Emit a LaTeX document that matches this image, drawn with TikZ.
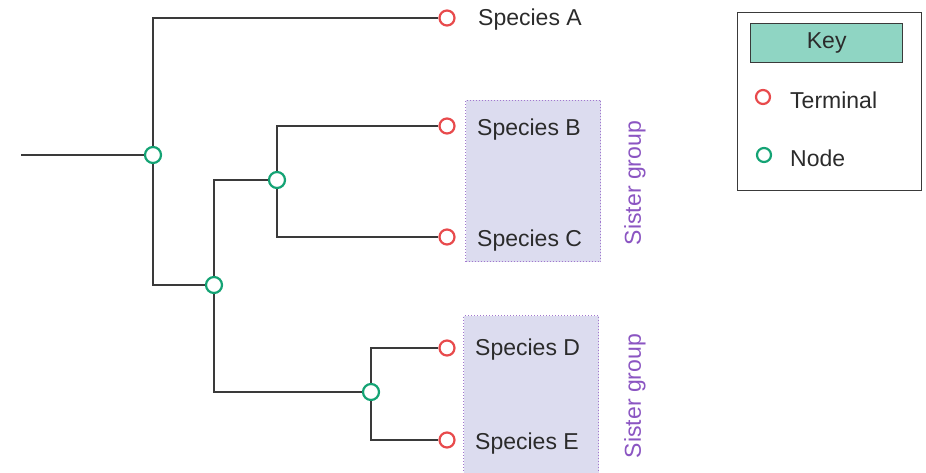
\documentclass[tikz,border=0pt]{standalone}
\usepackage{fontspec}
\setmainfont{Liberation Sans}
\definecolor{linegray}{HTML}{3A3A3A}
\definecolor{termred}{HTML}{E84A4C}
\definecolor{nodegreen}{HTML}{14A374}
\definecolor{sisterpurple}{HTML}{8B55C2}
\definecolor{boxfill}{HTML}{DCDCEF}
\definecolor{keyfill}{HTML}{8FD5C3}
\definecolor{txt}{HTML}{2B2B2B}
\tikzset{
  branch/.style={draw=linegray, line width=1.8pt},
  term/.style={circle, draw=termred, fill=white, line width=2.2pt, minimum size=15pt, inner sep=0pt},
  inode/.style={circle, draw=nodegreen, fill=white, line width=2.2pt, minimum size=16pt, inner sep=0pt},
  lbl/.style={anchor=west, text=txt, font=\fontsize{23}{27}\selectfont, inner sep=0pt},
  sisterbox/.style={draw=sisterpurple!80, dotted, line width=1pt, fill=boxfill},
  sisterlbl/.style={rotate=90, text=sisterpurple, font=\fontsize{23}{27}\selectfont, inner sep=0pt},
}
\begin{document}
\begin{tikzpicture}[x=1pt,y=-1pt]
\useasboundingbox (0,0) rectangle (926,473);
% sister group boxes
\node[sisterbox, minimum width=135pt, minimum height=161pt, inner sep=0pt, anchor=north west] (sb1) at (465,100) {};
\node[sisterbox, minimum width=135pt, minimum height=170pt, inner sep=0pt, anchor=north west] (sb2) at (463,315) {};
\node[sisterlbl] (sg1) at (635,183) {Sister group};
\node[sisterlbl] (sg2) at (635,396) {Sister group};
% tree nodes
\coordinate (root) at (21,155);
\node[inode] (n1) at (153,155) {};
\node[inode] (n2) at (214,285) {};
\node[inode] (n3) at (277,180) {};
\node[inode] (n4) at (371,392) {};
\node[term] (tA) at (447,18) {};
\node[term] (tB) at (447,126) {};
\node[term] (tC) at (447,237) {};
\node[term] (tD) at (447,348) {};
\node[term] (tE) at (447,440) {};
% branches
\draw[branch] (root) -- (n1);
\draw[branch] (n1) |- (tA);
\draw[branch] (n1) |- (n2);
\draw[branch] (n2) |- (n3);
\draw[branch] (n2) |- (n4);
\draw[branch] (n3) |- (tB);
\draw[branch] (n3) |- (tC);
\draw[branch] (n4) |- (tD);
\draw[branch] (n4) |- (tE);
% labels
\node[lbl] (lA) at (478,20) {Species A};
\node[lbl] (lB) at (477,130) {Species B};
\node[lbl] (lC) at (477,241) {Species C};
\node[lbl] (lD) at (475,350) {Species D};
\node[lbl] (lE) at (475,444) {Species E};
% key
\node[draw=linegray, line width=1.4pt, minimum width=184pt, minimum height=178pt, inner sep=0pt, anchor=north west] (keybox) at (737,12) {};
\node[draw=linegray, line width=1.4pt, fill=keyfill, minimum width=152pt, minimum height=39pt, inner sep=0pt, anchor=north west, text=txt, font=\fontsize{23}{27}\selectfont] (keyhead) at (750,23) {Key};
\node[term, minimum size=14pt] (kT) at (763,97) {};
\node[inode, minimum size=14pt] (kN) at (764,155) {};
\node[lbl] (kTl) at (790,100) {Terminal};
\node[lbl] (kNl) at (790,158) {Node};
\end{tikzpicture}
\end{document}
